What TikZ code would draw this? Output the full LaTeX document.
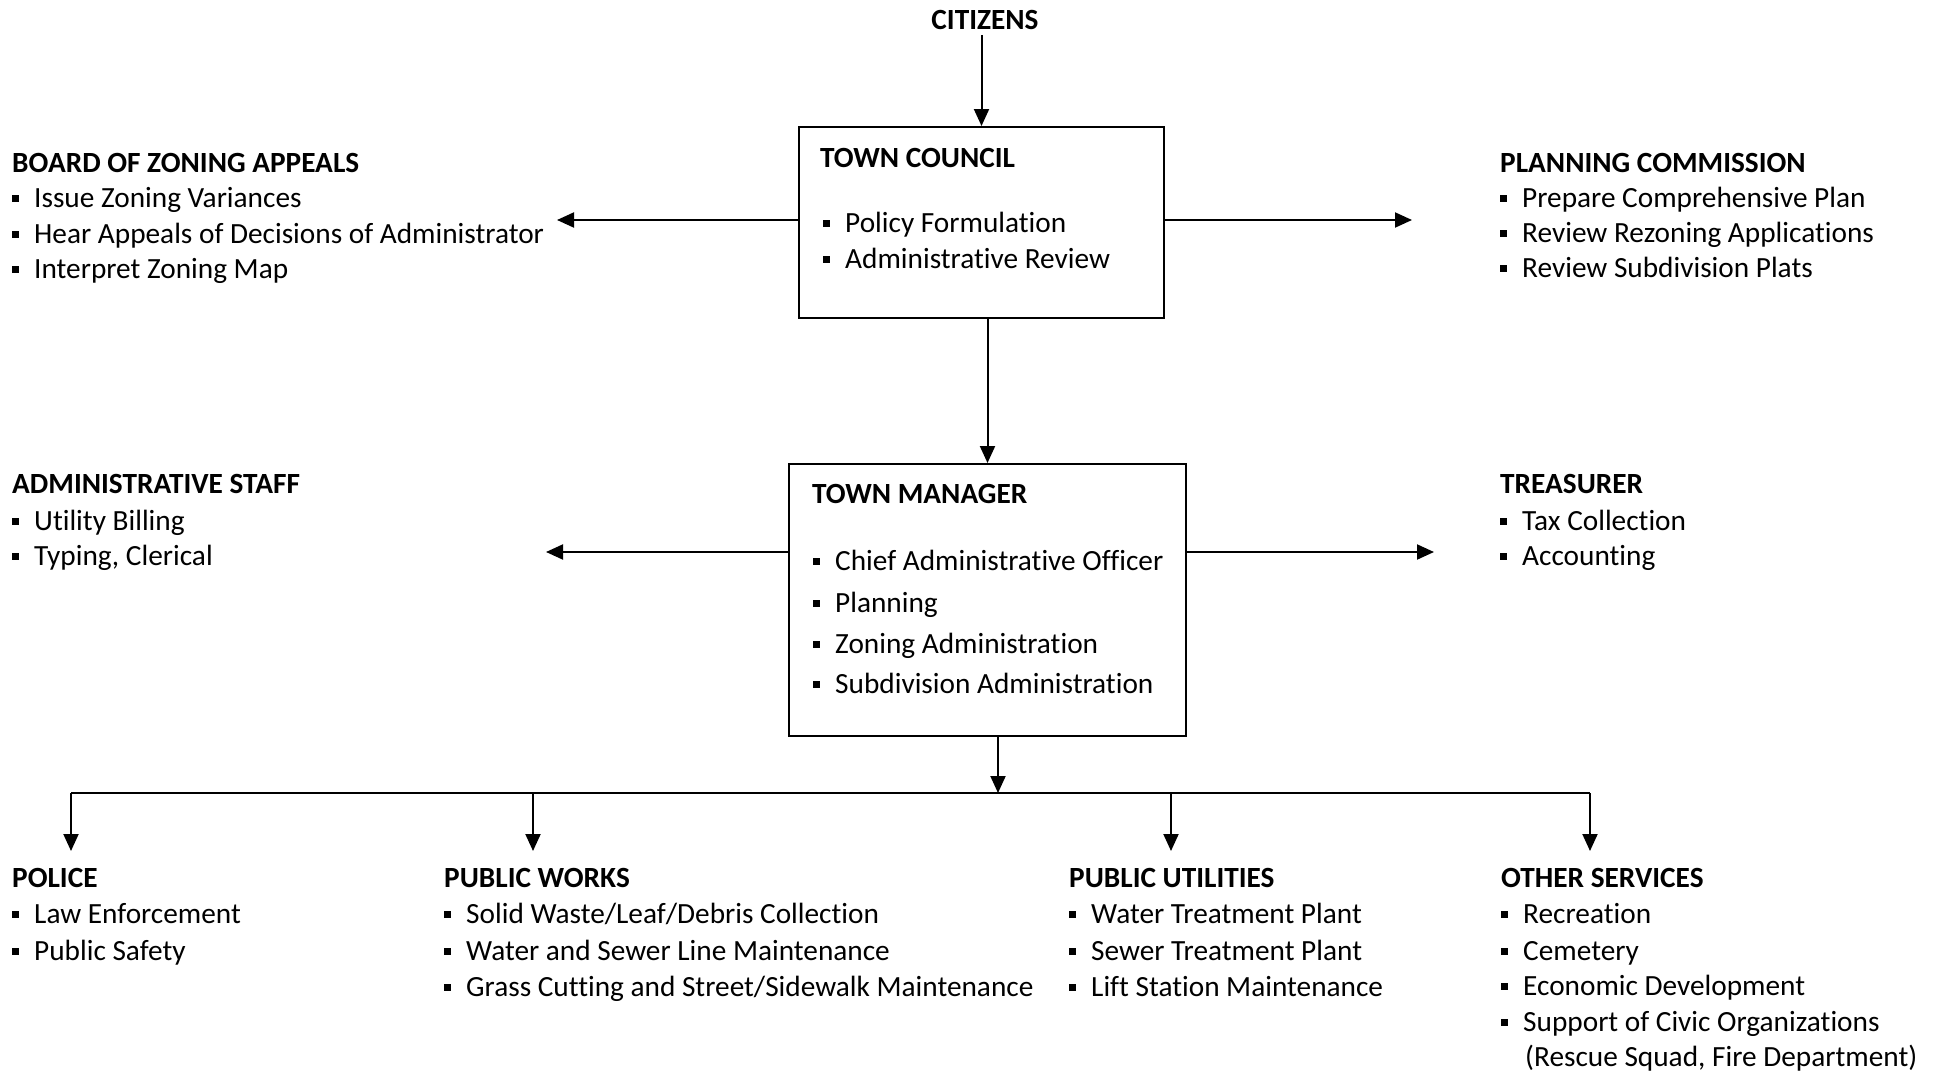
\documentclass[tikz,border=0pt]{standalone}
\usepackage{fontspec}
\setmainfont{Carlito}[Ligatures={NoCommon}]
\usetikzlibrary{arrows.meta}
\newcommand{\bul}{\rule[5.5pt]{6.5pt}{6.5pt}\hspace{15.5pt}}

\begin{document}
\begin{tikzpicture}[x=1pt, y=-1pt,
    txt/.style={anchor=base west, inner sep=0pt, font=\fontsize{29.3}{34}\selectfont},
    head/.style={txt, font=\fontsize{29.3}{34}\selectfont\bfseries},
    box/.style={draw, line width=2pt, inner sep=0pt},
    arr/.style={line width=2pt, -{Triangle[length=17pt, width=15pt]}}]
  \useasboundingbox (0,0) rectangle (1944,1073);
  % top
  \node[head, anchor=base] (citizens) at (985,30) {CITIZENS};
  \node[box, minimum width=365pt, minimum height=191pt] (council) at (981.5,222.5) {};
  \node[head] (council title) at (820,167) {TOWN COUNCIL};
  \node[txt] (council a) at (823,232) {\bul Policy Formulation};
  \node[txt] (council b) at (823,268) {\bul Administrative Review};
  \node[box, minimum width=397pt, minimum height=272pt] (manager) at (987.5,600) {};
  \node[head] (manager title) at (812,503) {TOWN MANAGER};
  \node[txt] (manager a) at (813,570) {\bul Chief Administrative Officer};
  \node[txt] (manager b) at (813,612) {\bul Planning};
  \node[txt] (manager c) at (813,653) {\bul Zoning Administration};
  \node[txt] (manager d) at (813,693) {\bul Subdivision Administration};
  % left and right groups
  \node[head] (zoning title) at (12,172) {BOARD OF ZONING APPEALS};
  \node[txt] (zoning a) at (12,207) {\bul Issue Zoning Variances};
  \node[txt] (zoning b) at (12,243) {\bul Hear Appeals of Decisions of Administrator};
  \node[txt] (zoning c) at (12,278) {\bul Interpret Zoning Map};
  \node[head] (staff title) at (12,493) {ADMINISTRATIVE STAFF};
  \node[txt] (staff a) at (12,530) {\bul Utility Billing};
  \node[txt] (staff b) at (12,565) {\bul Typing, Clerical};
  \node[head] (planning title) at (1500,172) {PLANNING COMMISSION};
  \node[txt] (planning a) at (1500,207) {\bul Prepare Comprehensive Plan};
  \node[txt] (planning b) at (1500,242) {\bul Review Rezoning Applications};
  \node[txt] (planning c) at (1500,277) {\bul Review Subdivision Plats};
  \node[head] (treasurer title) at (1500,493) {TREASURER};
  \node[txt] (treasurer a) at (1500,530) {\bul Tax Collection};
  \node[txt] (treasurer b) at (1500,565) {\bul Accounting};
  % departments
  \node[head] (police title) at (12,887) {POLICE};
  \node[txt] (police a) at (12,923) {\bul Law Enforcement};
  \node[txt] (police b) at (12,960) {\bul Public Safety};
  \node[head] (works title) at (444,887) {PUBLIC WORKS};
  \node[txt] (works a) at (444,923) {\bul Solid Waste/Leaf/Debris Collection};
  \node[txt] (works b) at (444,960) {\bul Water and Sewer Line Maintenance};
  \node[txt] (works c) at (444,996) {\bul Grass Cutting and Street/Sidewalk Maintenance};
  \node[head] (utilities title) at (1069,887) {PUBLIC UTILITIES};
  \node[txt] (utilities a) at (1069,923) {\bul Water Treatment Plant};
  \node[txt] (utilities b) at (1069,960) {\bul Sewer Treatment Plant};
  \node[txt] (utilities c) at (1069,996) {\bul Lift Station Maintenance};
  \node[head] (other title) at (1501,887) {OTHER SERVICES};
  \node[txt] (other a) at (1501,923) {\bul Recreation};
  \node[txt] (other b) at (1501,960) {\bul Cemetery};
  \node[txt] (other c) at (1501,995) {\bul Economic Development};
  \node[txt] (other d) at (1501,1031) {\bul Support of Civic Organizations};
  \node[txt] (other e) at (1525,1066) {(Rescue Squad, Fire Department)};
  % connectors
  \coordinate (zoning) at (557,220);
  \coordinate (planning) at (1412,220);
  \coordinate (staff) at (546,552);
  \coordinate (treasurer) at (1434,552);
  \coordinate (bus) at (998,793);
  \coordinate (bus left) at (71,793);
  \coordinate (bus right) at (1590,793);
  \coordinate (police) at (71,851);
  \coordinate (works) at (533,851);
  \coordinate (utilities) at (1171,851);
  \coordinate (other) at (1590,851);
  \draw[arr] (council.north |- 0,35) -- (council.north);
  \draw[arr] (council.west |- zoning) -- (zoning);
  \draw[arr] (council.east |- planning) -- (planning);
  \draw[arr] (council.south -| manager.north) -- (manager.north);
  \draw[arr] (manager.west |- staff) -- (staff);
  \draw[arr] (manager.east |- treasurer) -- (treasurer);
  \draw[arr] (manager.south -| bus) -- (bus);
  \draw[line width=2pt] (bus left) -- (bus right);
  \draw[arr] (bus left) -- (police);
  \draw[arr] (works |- bus) -- (works);
  \draw[arr] (utilities |- bus) -- (utilities);
  \draw[arr] (bus right) -- (other);
\end{tikzpicture}
\end{document}
